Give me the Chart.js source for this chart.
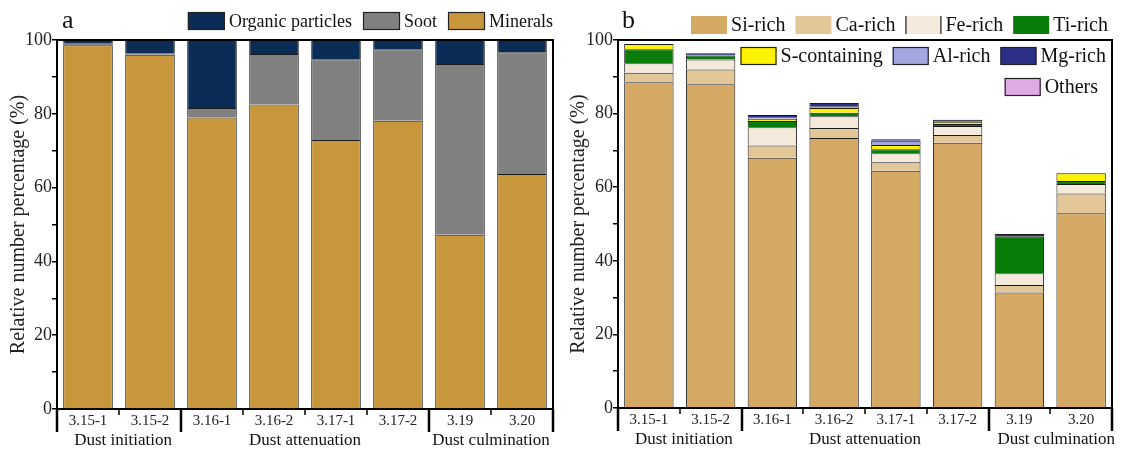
<!DOCTYPE html>
<html>
<head>
<meta charset="utf-8">
<script src="https://cdn.jsdelivr.net/npm/chart.js@4.4.1/dist/chart.umd.min.js"></script>
<style>
  html, body { margin: 0; padding: 0; background: #fff; }
  #wrap { position: relative; width: 1121px; height: 450px; overflow: hidden; }
  .pane { position: absolute; top: 0; height: 450px; }
  #pa { left: 0; width: 560px; }
  #pb { left: 560px; width: 561px; }
  canvas { display: block; }
</style>
</head>
<body>
<div id="wrap">
  <div class="pane" id="pa"><canvas id="ca" width="560" height="450"></canvas></div>
  <div class="pane" id="pb"><canvas id="cb" width="561" height="450"></canvas></div>
</div>
<script>
// Sampling periods and dust stages
const samples = ['3.15-1', '3.15-2', '3.16-1', '3.16-2', '3.17-1', '3.17-2', '3.19', '3.20'];
const stages = ['Dust initiation', 'Dust attenuation', 'Dust culmination'];
const stageFirst = [0, 2, 6];
const stageLast = [1, 5, 7];
const yTickValues = [0, 20, 40, 60, 80, 100];

// (a) particle types, relative number percentage (%)
const minerals = [98.6, 96.0, 79.0, 82.5, 72.9, 78.1, 47.2, 63.7];
const soot     = [0.4, 0.3, 2.6, 13.7, 21.9, 19.4, 46.3, 33.0];
const organic  = [1.0, 3.7, 18.4, 3.8, 5.2, 2.5, 6.5, 3.3];

// (b) mineral particle classes, relative number percentage (%)
const siRich      = [88.5, 88.0, 68.0, 73.4, 64.5, 72.1, 31.4, 52.9];
const caRich      = [2.6, 4.0, 3.3, 2.7, 2.3, 2.1, 2.0, 5.4];
const feRich      = [2.6, 2.7, 5.0, 3.2, 2.4, 2.4, 3.2, 2.6];
const tiRich      = [3.8, 1.1, 1.7, 0.9, 1.1, 0.6, 10.1, 0.8];
const sContaining = [1.4, 0, 0.6, 1.3, 1.2, 0.6, 0, 2.1];
const alRich      = [0, 0, 0.4, 0.5, 1.1, 0, 0, 0];
const mgRich      = [0, 0.6, 0.6, 0.9, 0.4, 0.5, 0.6, 0];
const others      = [0, 0, 0, 0, 0, 0, 0, 0];

const FONT = "'Liberation Serif', 'Times New Roman', serif";
Chart.defaults.font.family = FONT;
Chart.defaults.color = '#111';

function stacked(series) {
  return series.map(s => ({
    label: s.label,
    data: s.data.map(v => (v > 0 ? v : null)),
    backgroundColor: s.color,
    borderColor: '#1c1c1c',
    borderWidth: 1,
    barPercentage: 0.8,
    categoryPercentage: 1.0,
    stack: 'all'
  }));
}

// Axis frame, grouped category axis, stage names, legend and panel letter
function decor(cfg) {
  return {
    id: 'decor',
    afterDraw(chart) {
      const { ctx, chartArea: a } = chart;
      const x = chart.scales.x;
      const ds = chart.data.datasets;
      ctx.save();

      // top and right frame
      ctx.strokeStyle = '#000';
      ctx.lineWidth = 2;
      ctx.beginPath();
      ctx.moveTo(a.left - 1, a.top);
      ctx.lineTo(a.right, a.top);
      ctx.lineTo(a.right, a.bottom);
      ctx.stroke();

      // separators between samples, long ones between stages
      const edges = new Set([...stageFirst, stageLast[stageLast.length - 1] + 1]);
      for (let i = 0; i <= samples.length; i++) {
        const px = Math.round(x.getPixelForValue(i - 0.5));
        const major = edges.has(i);
        ctx.lineWidth = major ? 2.5 : 1.5;
        ctx.beginPath();
        ctx.moveTo(px, a.bottom);
        ctx.lineTo(px, a.bottom + (major ? 23 : 6));
        ctx.stroke();
      }

      // stage names
      ctx.fillStyle = '#111';
      ctx.font = '17px ' + FONT;
      ctx.textAlign = 'center';
      ctx.textBaseline = 'middle';
      stages.forEach((s, k) => {
        const cx = (x.getPixelForValue(stageFirst[k] - 0.5) + x.getPixelForValue(stageLast[k] + 0.5)) / 2;
        ctx.fillText(s, cx + cfg.stageShift[k], a.bottom + 32);
      });

      // panel letter
      ctx.font = '26px ' + FONT;
      ctx.textAlign = 'left';
      ctx.textBaseline = 'alphabetic';
      ctx.fillText(cfg.letter, cfg.letterX, cfg.letterY);

      // legend rows, right aligned
      ctx.font = cfg.legendFont + 'px ' + FONT;
      ctx.textBaseline = 'middle';
      const bw = cfg.boxW, bh = cfg.boxH, gapT = 4, gapI = cfg.gap;
      cfg.rows.forEach(row => {
        const widths = row.items.map(i => bw + gapT + ctx.measureText(ds[i].label).width);
        const total = widths.reduce((p, c) => p + c, 0) + gapI * (widths.length - 1);
        let cx = row.right - total;
        row.items.forEach((i, k) => {
          const by = row.y - bh / 2;
          ctx.fillStyle = ds[i].backgroundColor;
          ctx.fillRect(cx, by, bw, bh);
          const style = row.border === 'auto' ? (ds[i].label === 'Fe-rich' ? 'sides' : 'none') : row.border;
          ctx.strokeStyle = '#222';
          ctx.lineWidth = 1.2;
          if (style === 'box') {
            ctx.strokeRect(cx + 0.5, by + 0.5, bw - 1, bh - 1);
          } else if (style === 'sides') {
            ctx.beginPath();
            ctx.moveTo(cx + 0.5, by); ctx.lineTo(cx + 0.5, by + bh);
            ctx.moveTo(cx + bw - 0.5, by); ctx.lineTo(cx + bw - 0.5, by + bh);
            ctx.stroke();
          }
          ctx.fillStyle = '#111';
          ctx.fillText(ds[i].label, cx + bw + gapT, row.y + 1);
          cx += widths[k] + gapI;
        });
      });
      ctx.restore();
    }
  };
}

function makeChart(canvas, datasets, pad, yWidth, xHeight, cfg) {
  return new Chart(canvas, {
    type: 'bar',
    data: { labels: samples, datasets },
    options: {
      responsive: false,
      animation: false,
      devicePixelRatio: 1,
      layout: { padding: pad },
      plugins: { legend: { display: false }, tooltip: { enabled: false } },
      scales: {
        x: {
          stacked: true,
          offset: true,
          grid: { display: false, drawTicks: false },
          border: { display: true, color: '#000', width: 2 },
          ticks: { font: { size: 15 }, color: '#222', padding: 3, maxRotation: 0, autoSkip: false },
          afterFit: s => { s.height = xHeight; }
        },
        y: {
          stacked: true,
          min: 0,
          max: 100,
          ticks: {
            stepSize: 10,
            font: { size: 18 },
            color: '#222',
            padding: 0,
            callback: v => (yTickValues.includes(v) ? v : '')
          },
          grid: { drawOnChartArea: false, drawTicks: true, tickLength: 5, color: '#000', lineWidth: 1.5 },
          border: { display: true, color: '#000', width: 2 },
          title: {
            display: true,
            text: 'Relative number percentage (%)',
            font: { size: 20 },
            color: '#222',
            padding: { top: 7, bottom: 0 }
          },
          afterFit: s => { s.width = yWidth; }
        }
      }
    },
    plugins: [decor(cfg)]
  });
}

makeChart(
  document.getElementById('ca'),
  stacked([
    { label: 'Minerals', data: minerals, color: '#c9973b' },
    { label: 'Soot', data: soot, color: '#808080' },
    { label: 'Organic particles', data: organic, color: '#0b2c54' }
  ]),
  { left: 0, top: 40, right: 7, bottom: 0 }, 57, 41,
  {
    letter: 'a', letterX: 62, letterY: 28,
    boxW: 37, boxH: 18, legendFont: 18, gap: 11,
    stageShift: [4, 0, 0],
    rows: [{ right: 553, y: 21, items: [2, 1, 0], border: 'box' }]
  }
);

makeChart(
  document.getElementById('cb'),
  stacked([
    { label: 'Si-rich', data: siRich, color: '#d3a963' },
    { label: 'Ca-rich', data: caRich, color: '#e3c798' },
    { label: 'Fe-rich', data: feRich, color: '#f3eadb' },
    { label: 'Ti-rich', data: tiRich, color: '#087b08' },
    { label: 'S-containing', data: sContaining, color: '#fff200' },
    { label: 'Al-rich', data: alRich, color: '#a4a6e0' },
    { label: 'Mg-rich', data: mgRich, color: '#2b2f86' },
    { label: 'Others', data: others, color: '#e2aae4' }
  ]),
  { left: 0, top: 40, right: 9, bottom: 0 }, 58, 42,
  {
    letter: 'b', letterX: 62, letterY: 28,
    boxW: 36, boxH: 18, legendFont: 20, gap: 10,
    stageShift: [4, 0, 6],
    rows: [
      { right: 548, y: 25, items: [0, 1, 2, 3], border: 'auto' },
      { right: 546, y: 56, items: [4, 5, 6], border: 'box' },
      { right: 538, y: 87, items: [7], border: 'box' }
    ]
  }
);
</script>
</body>
</html>
